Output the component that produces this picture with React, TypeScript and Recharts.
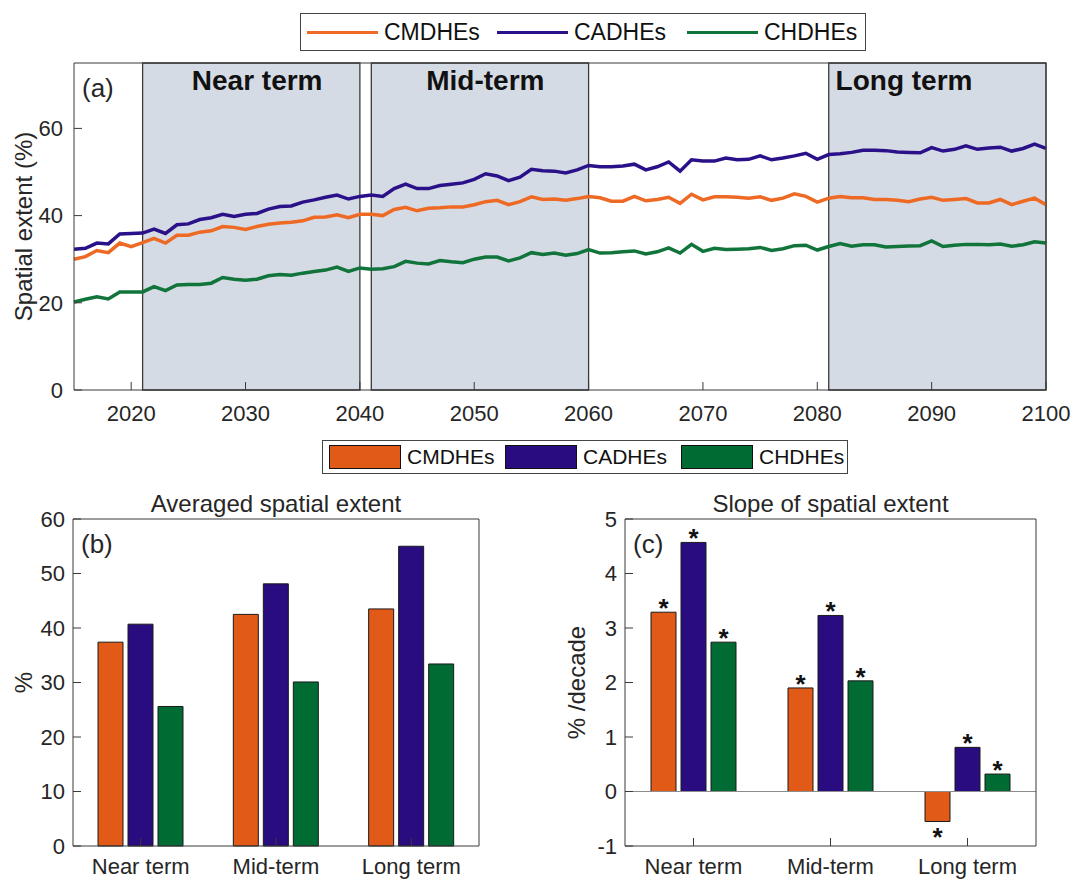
import React from 'react';
import {
  LineChart,
  Line,
  BarChart,
  Bar,
  XAxis,
  YAxis,
  ReferenceArea,
  ReferenceLine,
  Legend,
  LabelList,
} from 'recharts';

const FONT = '"Liberation Sans", Arial, Helvetica, sans-serif';
const TEXT = '#262626';
const AXIS = '#3a3a3a';
const SHADE = '#D5DBE4';

const LINE_COLORS = { cmdhes: '#EE6A24', cadhes: '#2B1189', chdhes: '#10743B' };
const BAR_COLORS = { cmdhes: '#E15A17', cadhes: '#280C80', chdhes: '#006B33' };
const seriesNames = ['CMDHEs', 'CADHEs', 'CHDHEs'];

// annual values, 2015-2100
const years = [
  2015, 2016, 2017, 2018, 2019, 2020, 2021, 2022, 2023, 2024,
  2025, 2026, 2027, 2028, 2029, 2030, 2031, 2032, 2033, 2034,
  2035, 2036, 2037, 2038, 2039, 2040, 2041, 2042, 2043, 2044,
  2045, 2046, 2047, 2048, 2049, 2050, 2051, 2052, 2053, 2054,
  2055, 2056, 2057, 2058, 2059, 2060, 2061, 2062, 2063, 2064,
  2065, 2066, 2067, 2068, 2069, 2070, 2071, 2072, 2073, 2074,
  2075, 2076, 2077, 2078, 2079, 2080, 2081, 2082, 2083, 2084,
  2085, 2086, 2087, 2088, 2089, 2090, 2091, 2092, 2093, 2094,
  2095, 2096, 2097, 2098, 2099, 2100,
];

const cmdhes = [
  30.0, 30.6, 32.0, 31.5, 33.7, 32.9, 33.8, 34.8, 33.7, 35.5,
  35.5, 36.2, 36.5, 37.5, 37.3, 36.8, 37.5, 38.0, 38.3, 38.5,
  38.8, 39.6, 39.7, 40.2, 39.5, 40.3, 40.3, 40.0, 41.4, 41.9,
  41.1, 41.7, 41.8, 42.0, 42.0, 42.5, 43.2, 43.5, 42.5, 43.2,
  44.3, 43.7, 43.8, 43.5, 43.9, 44.4, 44.1, 43.3, 43.3, 44.4,
  43.4, 43.7, 44.2, 42.8, 44.9, 43.6, 44.3, 44.3, 44.2, 44.0,
  44.3, 43.5, 44.0, 45.0, 44.4, 43.1, 44.0, 44.4, 44.1, 44.1,
  43.7, 43.7, 43.5, 43.2, 43.8, 44.2, 43.5, 43.7, 43.9, 42.9,
  42.9, 43.7, 42.5, 43.3, 44.0, 42.5,
];

const cadhes = [
  32.3, 32.5, 33.7, 33.5, 35.8, 35.9, 36.0, 36.9, 35.9, 37.9,
  38.1, 39.1, 39.5, 40.3, 39.8, 40.3, 40.5, 41.5, 42.1, 42.2,
  43.1, 43.6, 44.2, 44.7, 43.8, 44.4, 44.7, 44.4, 46.2, 47.2,
  46.2, 46.2, 46.9, 47.2, 47.5, 48.3, 49.6, 49.1, 48.0, 48.8,
  50.6, 50.3, 50.2, 49.8, 50.5, 51.5, 51.2, 51.2, 51.4, 51.8,
  50.5, 51.2, 52.3, 50.2, 52.8, 52.5, 52.5, 53.2, 52.8, 52.9,
  53.7, 52.8, 53.2, 53.7, 54.3, 52.9, 54.0, 54.2, 54.5, 55.0,
  55.0, 54.9, 54.6, 54.5, 54.4, 55.6, 54.8, 55.2, 56.0, 55.2,
  55.5, 55.7, 54.8, 55.4, 56.4, 55.4,
];

const chdhes = [
  20.2, 20.8, 21.4, 20.9, 22.5, 22.5, 22.5, 23.7, 22.8, 24.1,
  24.2, 24.2, 24.5, 25.8, 25.4, 25.2, 25.4, 26.2, 26.5, 26.3,
  26.8, 27.2, 27.5, 28.2, 27.2, 28.0, 27.7, 27.8, 28.3, 29.5,
  29.1, 28.9, 29.7, 29.4, 29.2, 30.0, 30.5, 30.5, 29.6, 30.3,
  31.5, 31.1, 31.4, 30.9, 31.3, 32.2, 31.4, 31.5, 31.7, 31.9,
  31.2, 31.7, 32.6, 31.4, 33.4, 31.8, 32.5, 32.2, 32.3, 32.4,
  32.7, 32.0, 32.4, 33.1, 33.2, 32.1, 32.9, 33.6, 33.0, 33.3,
  33.3, 32.8, 32.9, 33.0, 33.1, 34.2, 32.9, 33.2, 33.4, 33.4,
  33.3, 33.5, 33.0, 33.3, 34.0, 33.7,
];

const yearTicks = [2020, 2030, 2040, 2050, 2060, 2070, 2080, 2090, 2100];
const extentTicks = [0, 20, 40, 60];

const periods = [
  { name: 'Near term', from: 2021, to: 2040, labelYear: 2025.3 },
  { name: 'Mid-term', from: 2041, to: 2060, labelYear: 2045.8 },
  { name: 'Long term', from: 2081, to: 2100, labelYear: 2081.6 },
];

// panels (b) and (c)
const terms = ['Near term', 'Mid-term', 'Long term'];
const avgCmdhes = [37.4, 42.5, 43.5];
const avgCadhes = [40.7, 48.1, 55.0];
const avgChdhes = [25.6, 30.1, 33.4];
const slopeCmdhes = [3.29, 1.9, -0.55];
const slopeCadhes = [4.57, 3.23, 0.81];
const slopeChdhes = [2.74, 2.03, 0.32];
const avgTicks = [0, 10, 20, 30, 40, 50, 60];
const slopeTicks = [-1, 0, 1, 2, 3, 4, 5];

const lineData = years.map((year, i) => ({
  year,
  cmdhes: cmdhes[i],
  cadhes: cadhes[i],
  chdhes: chdhes[i],
}));

const avgData = terms.map((term, i) => ({
  term,
  cmdhes: avgCmdhes[i],
  cadhes: avgCadhes[i],
  chdhes: avgChdhes[i],
}));

const slopeData = terms.map((term, i) => ({
  term,
  cmdhes: slopeCmdhes[i],
  cadhes: slopeCadhes[i],
  chdhes: slopeChdhes[i],
}));

// panel letter (and title) drawn from the top axis box
const topLabel = (letter: string, title?: string) => (props: any) => {
  const vb = props.viewBox || { x: 0, y: 0, width: 0, height: 0 };
  const top = vb.y + (vb.height || 0);
  return (
    <g>
      {title && (
        <text x={vb.x + vb.width / 2} y={top - 7} textAnchor="middle" fontSize={24} fill={TEXT}>
          {title}
        </text>
      )}
      <text x={vb.x + 8} y={top + 34} fontSize={26} fill={TEXT}>
        {letter}
      </text>
    </g>
  );
};

const yLabel = (text: string, baseX: number) => (props: any) => {
  const vb = props.viewBox || { x: 0, y: 0, height: 0 };
  const x = vb.x + baseX;
  const cy = vb.y + vb.height / 2;
  return (
    <text x={x} y={cy} transform={`rotate(-90 ${x} ${cy})`} textAnchor="middle" fontSize={24} fill={TEXT}>
      {text}
    </text>
  );
};

const periodLabel = (p: typeof periods[number]) => (props: any) => {
  const vb = props.viewBox || { x: 0, y: 0, width: 0 };
  const x = vb.x + ((p.labelYear - p.from) / (p.to - p.from)) * vb.width;
  return (
    <text x={x} y={vb.y + 27} fontSize={28} fontWeight="bold" fill="#111">
      {p.name}
    </text>
  );
};

const ordered = (payload: any[] = []) =>
  [...payload].sort((a, b) => seriesNames.indexOf(a.value) - seriesNames.indexOf(b.value));

const LineLegend = (props: any) => (
  <div
    style={{
      border: '1px solid #444',
      background: '#fff',
      height: 38,
      boxSizing: 'border-box',
      display: 'flex',
      alignItems: 'center',
      padding: '0 6px',
      fontFamily: FONT,
    }}
  >
    {ordered(props.payload).map((entry: any, i: number) => (
      <div key={entry.value} style={{ display: 'flex', alignItems: 'center', marginLeft: i ? 16 : 0 }}>
        <span style={{ display: 'inline-block', width: 71, height: 3, background: entry.color, marginRight: 6 }} />
        <span style={{ fontSize: 23, color: '#111', width: 97 }}>{entry.value}</span>
      </div>
    ))}
  </div>
);

const BarLegend = (props: any) => (
  <div
    style={{
      border: '1px solid #444',
      background: '#fff',
      height: 34,
      boxSizing: 'border-box',
      display: 'flex',
      alignItems: 'center',
      padding: '0 6px',
      fontFamily: FONT,
    }}
  >
    {ordered(props.payload).map((entry: any, i: number) => (
      <div key={entry.value} style={{ display: 'flex', alignItems: 'center', marginLeft: i ? 14 : 0 }}>
        <span
          style={{
            display: 'inline-block',
            width: 72,
            height: 24,
            boxSizing: 'border-box',
            background: entry.color,
            border: '1px solid #111',
            marginRight: 6,
          }}
        />
        <span style={{ fontSize: 21, color: '#111', width: 84 }}>{entry.value}</span>
      </div>
    ))}
  </div>
);

// significance asterisk above positive bars, below negative ones
const Star = (props: any) => {
  const vb = props.viewBox || props;
  const { x, y, width, height } = vb;
  const top = Math.min(y, y + height);
  const bottom = Math.max(y, y + height);
  const neg = Number(props.value) < 0;
  return (
    <text
      x={x + width / 2}
      y={neg ? bottom + 25 : top + 5}
      textAnchor="middle"
      fontSize={26}
      fontWeight="bold"
      fill="#111"
    >
      *
    </text>
  );
};

const tickStyle = { fill: TEXT, fontSize: 22 };

export default function App() {
  return (
    <div
      style={{
        position: 'absolute',
        left: 0,
        top: 0,
        width: 1072,
        height: 879,
        background: '#fff',
        fontFamily: FONT,
        overflow: 'hidden',
      }}
    >
      {/* (a) time series */}
      <div style={{ position: 'absolute', left: 0, top: 0 }}>
        <LineChart width={1072} height={430} data={lineData} margin={{ top: 62, right: 25, bottom: 0, left: 0 }}>
          {periods.map((p) => (
            <ReferenceArea
              key={p.name}
              x1={p.from}
              x2={p.to}
              fill={SHADE}
              fillOpacity={1}
              stroke="#3a3a3a"
              strokeWidth={1.3}
              label={periodLabel(p)}
            />
          ))}
          <XAxis
            dataKey="year"
            type="number"
            domain={[2015, 2100]}
            ticks={yearTicks}
            height={40}
            tickSize={-8}
            tickMargin={23}
            axisLine={{ stroke: AXIS }}
            tickLine={{ stroke: AXIS }}
            tick={tickStyle}
          />
          <XAxis
            xAxisId="top"
            orientation="top"
            type="number"
            domain={[2015, 2100]}
            ticks={yearTicks}
            height={1}
            tickSize={-8}
            tick={false}
            axisLine={{ stroke: AXIS }}
            tickLine={{ stroke: AXIS }}
            label={topLabel('(a)')}
          />
          <YAxis
            domain={[0, 75]}
            ticks={extentTicks}
            width={74}
            tickSize={-8}
            tickMargin={19}
            axisLine={{ stroke: AXIS }}
            tickLine={{ stroke: AXIS }}
            tick={tickStyle}
            label={yLabel('Spatial extent (%)', 32)}
          />
          <YAxis
            yAxisId="right"
            orientation="right"
            domain={[0, 75]}
            ticks={extentTicks}
            width={1}
            tickSize={-8}
            tick={false}
            axisLine={{ stroke: AXIS }}
            tickLine={{ stroke: AXIS }}
          />
          <Line type="linear" dataKey="cmdhes" name="CMDHEs" stroke={LINE_COLORS.cmdhes} strokeWidth={3.5} dot={false} activeDot={false} isAnimationActive={false} />
          <Line type="linear" dataKey="cadhes" name="CADHEs" stroke={LINE_COLORS.cadhes} strokeWidth={3.5} dot={false} activeDot={false} isAnimationActive={false} />
          <Line type="linear" dataKey="chdhes" name="CHDHEs" stroke={LINE_COLORS.chdhes} strokeWidth={3.5} dot={false} activeDot={false} isAnimationActive={false} />
          <Legend
            layout="vertical"
            align="center"
            verticalAlign="middle"
            content={<LineLegend />}
            wrapperStyle={{ top: 13, left: 300, width: 566, height: 38 }}
          />
        </LineChart>
      </div>

      {/* (b) averaged spatial extent */}
      <div style={{ position: 'absolute', left: 0, top: 430 }}>
        <BarChart width={540} height={449} data={avgData} margin={{ top: 88, right: 60, bottom: 0, left: 0 }} barSize={25} barGap={5}>
          <XAxis
            dataKey="term"
            height={33}
            tickSize={-8}
            tickMargin={20}
            axisLine={{ stroke: AXIS }}
            tickLine={{ stroke: AXIS }}
            tick={tickStyle}
          />
          <XAxis
            xAxisId="top"
            dataKey="term"
            orientation="top"
            height={1}
            tickSize={-8}
            tick={false}
            axisLine={{ stroke: AXIS }}
            tickLine={{ stroke: AXIS }}
            label={topLabel('(b)', 'Averaged spatial extent')}
          />
          <YAxis
            domain={[0, 60]}
            ticks={avgTicks}
            width={73}
            tickSize={-8}
            tickMargin={16}
            axisLine={{ stroke: AXIS }}
            tickLine={{ stroke: AXIS }}
            tick={tickStyle}
            label={yLabel('%', 32)}
          />
          <YAxis
            yAxisId="right"
            orientation="right"
            domain={[0, 60]}
            ticks={avgTicks}
            width={1}
            tickSize={-8}
            tick={false}
            axisLine={{ stroke: AXIS }}
            tickLine={{ stroke: AXIS }}
          />
          <Bar dataKey="cmdhes" name="CMDHEs" fill={BAR_COLORS.cmdhes} stroke="#1a1a1a" strokeWidth={1} isAnimationActive={false} />
          <Bar dataKey="cadhes" name="CADHEs" fill={BAR_COLORS.cadhes} stroke="#1a1a1a" strokeWidth={1} isAnimationActive={false} />
          <Bar dataKey="chdhes" name="CHDHEs" fill={BAR_COLORS.chdhes} stroke="#1a1a1a" strokeWidth={1} isAnimationActive={false} />
          <Legend
            layout="vertical"
            align="center"
            verticalAlign="middle"
            content={<BarLegend />}
            wrapperStyle={{ top: 10, left: 322, width: 526, height: 34 }}
          />
        </BarChart>
      </div>

      {/* (c) slope of spatial extent */}
      <div style={{ position: 'absolute', left: 540, top: 430 }}>
        <BarChart width={532} height={449} data={slopeData} margin={{ top: 88, right: 35, bottom: 0, left: 0 }} barSize={25} barGap={5}>
          <XAxis
            dataKey="term"
            height={33}
            tickSize={-8}
            tickMargin={20}
            axisLine={{ stroke: AXIS }}
            tickLine={{ stroke: AXIS }}
            tick={tickStyle}
          />
          <XAxis
            xAxisId="top"
            dataKey="term"
            orientation="top"
            height={1}
            tickSize={-8}
            tick={false}
            axisLine={{ stroke: AXIS }}
            tickLine={{ stroke: AXIS }}
            label={topLabel('(c)', 'Slope of spatial extent')}
          />
          <YAxis
            domain={[-1, 5]}
            ticks={slopeTicks}
            width={85}
            tickSize={-8}
            tickMargin={16}
            axisLine={{ stroke: AXIS }}
            tickLine={{ stroke: AXIS }}
            tick={tickStyle}
            label={yLabel('% /decade', 45)}
          />
          <YAxis
            yAxisId="right"
            orientation="right"
            domain={[-1, 5]}
            ticks={slopeTicks}
            width={1}
            tickSize={-8}
            tick={false}
            axisLine={{ stroke: AXIS }}
            tickLine={{ stroke: AXIS }}
          />
          <ReferenceLine y={0} stroke="#8c8c8c" strokeWidth={1.2} />
          <Bar dataKey="cmdhes" name="CMDHEs" fill={BAR_COLORS.cmdhes} stroke="#1a1a1a" strokeWidth={1} isAnimationActive={false}>
            <LabelList dataKey="cmdhes" content={Star} />
          </Bar>
          <Bar dataKey="cadhes" name="CADHEs" fill={BAR_COLORS.cadhes} stroke="#1a1a1a" strokeWidth={1} isAnimationActive={false}>
            <LabelList dataKey="cadhes" content={Star} />
          </Bar>
          <Bar dataKey="chdhes" name="CHDHEs" fill={BAR_COLORS.chdhes} stroke="#1a1a1a" strokeWidth={1} isAnimationActive={false}>
            <LabelList dataKey="chdhes" content={Star} />
          </Bar>
        </BarChart>
      </div>
    </div>
  );
}
